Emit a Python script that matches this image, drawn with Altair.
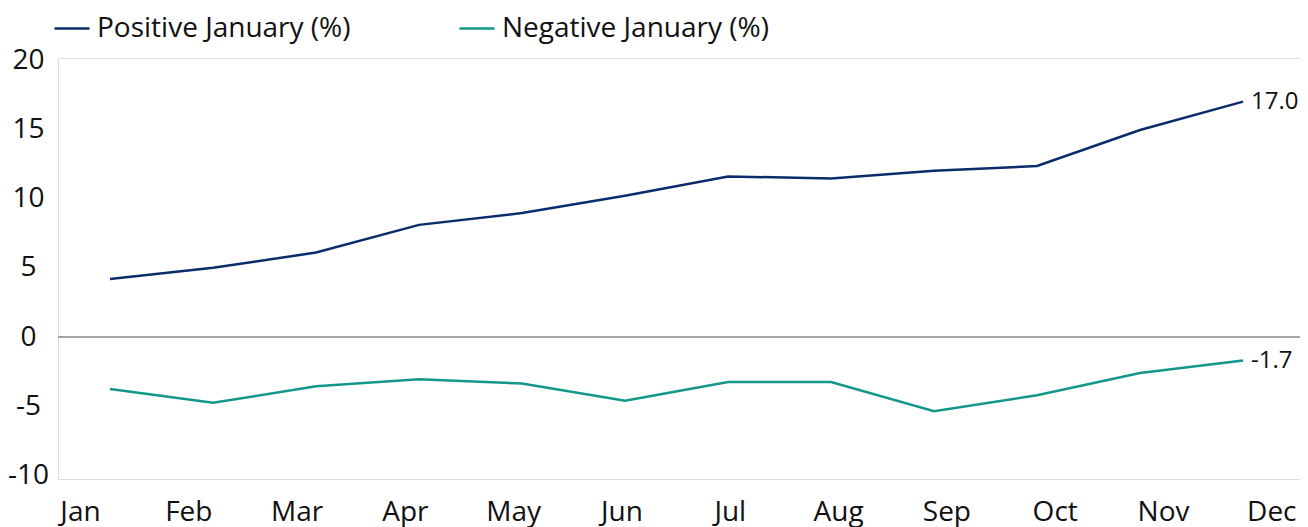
import altair as alt
import pandas as pd

months = ["Jan", "Feb", "Mar", "Apr", "May", "Jun", "Jul", "Aug", "Sep", "Oct", "Nov", "Dec"]
positive = [4.2, 5.0, 6.1, 8.1, 8.95, 10.2, 11.6, 11.45, 12.0, 12.35, 14.95, 17.0]
negative = [-3.75, -4.75, -3.55, -3.05, -3.35, -4.6, -3.25, -3.25, -5.35, -4.2, -2.6, -1.7]
series_names = ["Positive January (%)", "Negative January (%)"]
series_colors = ["#0A2C6B", "#13978A"]
y_ticks = [-10, -5, 0, 5, 10, 15, 20]

FONT = "Open Sans"
FS = 28

rows = []
for name, vals in zip(series_names, [positive, negative]):
    for i, (m, v) in enumerate(zip(months, vals)):
        rows.append({"idx": i, "month": m, "series": name, "value": v,
                     "label": f"{v:.1f}"})
df = pd.DataFrame(rows)
last = df[df["idx"] == len(months) - 1]

y_enc = alt.Y(
    "value:Q",
    scale=alt.Scale(domain=[-10.25, 20.15], nice=False, zero=False),
    axis=alt.Axis(
        values=y_ticks, title=None, grid=False, domain=False, ticks=False,
        labelAlign="center", labelPadding=30, labelFontSize=FS, labelFont=FONT,
        labelColor="#111111", labelFlush=False, labelOverlap=False,
        labelExpr="datum.value < 0 ? '-' + abs(datum.value) : '' + datum.value",
    ),
)
x_pts = alt.X("idx:Q", scale=alt.Scale(domain=[-0.505, 11.553], nice=False, zero=False), axis=None)

zero_rule = alt.Chart(df).mark_rule(color="#A3A3A3", strokeWidth=1.3).encode(y=alt.datum(0))

lines = alt.Chart(df).mark_line(strokeWidth=2.5).encode(
    x=x_pts,
    y=y_enc,
    color=alt.Color(
        "series:N",
        scale=alt.Scale(domain=series_names, range=series_colors),
        legend=alt.Legend(
            title=None, orient="none", direction="horizontal",
            legendX=-5, legendY=-48.5, symbolType="stroke", symbolSize=1225,
            symbolStrokeWidth=2.5, labelFontSize=FS, labelFont=FONT,
            labelColor="#111111", labelOffset=6, columnPadding=103, padding=0,
            labelLimit=0,
        ),
    ),
    detail="series:N",
)

end_labels = alt.Chart(last).mark_text(
    align="left", baseline="middle", dx=8, fontSize=24, font=FONT, color="#111111"
).encode(x=x_pts, y=alt.Y("value:Q"), text="label:N")

inner = alt.layer(zero_rule, lines, end_labels)

month_axis = alt.Chart(df[df["series"] == series_names[0]]).mark_point(opacity=0).encode(
    x=alt.X(
        "idx:Q",
        scale=alt.Scale(domain=[-0.2031, 11.265], nice=False, zero=False),
        axis=alt.Axis(
            values=list(range(12)), title=None, grid=False, domain=False, ticks=False,
            labelFontSize=FS, labelFont=FONT, labelColor="#111111", labelPadding=19,
            labelFlush=False, labelOverlap=False,
            labelExpr="['" + "','".join(months) + "'][datum.value]",
        ),
    ),
    y=alt.Y("value:Q"),
)

chart = (
    alt.layer(inner, month_axis)
    .resolve_scale(x="independent")
    .properties(width=1242, height=421,
                autosize=alt.AutoSizeParams(type="none"),
                padding={"left": 50, "top": 50, "right": 0, "bottom": 48})
    .configure_view(fill="#FCF7F7", strokeWidth=0)
    .configure(background="white")
)

chart.save("out.html", embed_options={"renderer": "svg", "actions": False})
